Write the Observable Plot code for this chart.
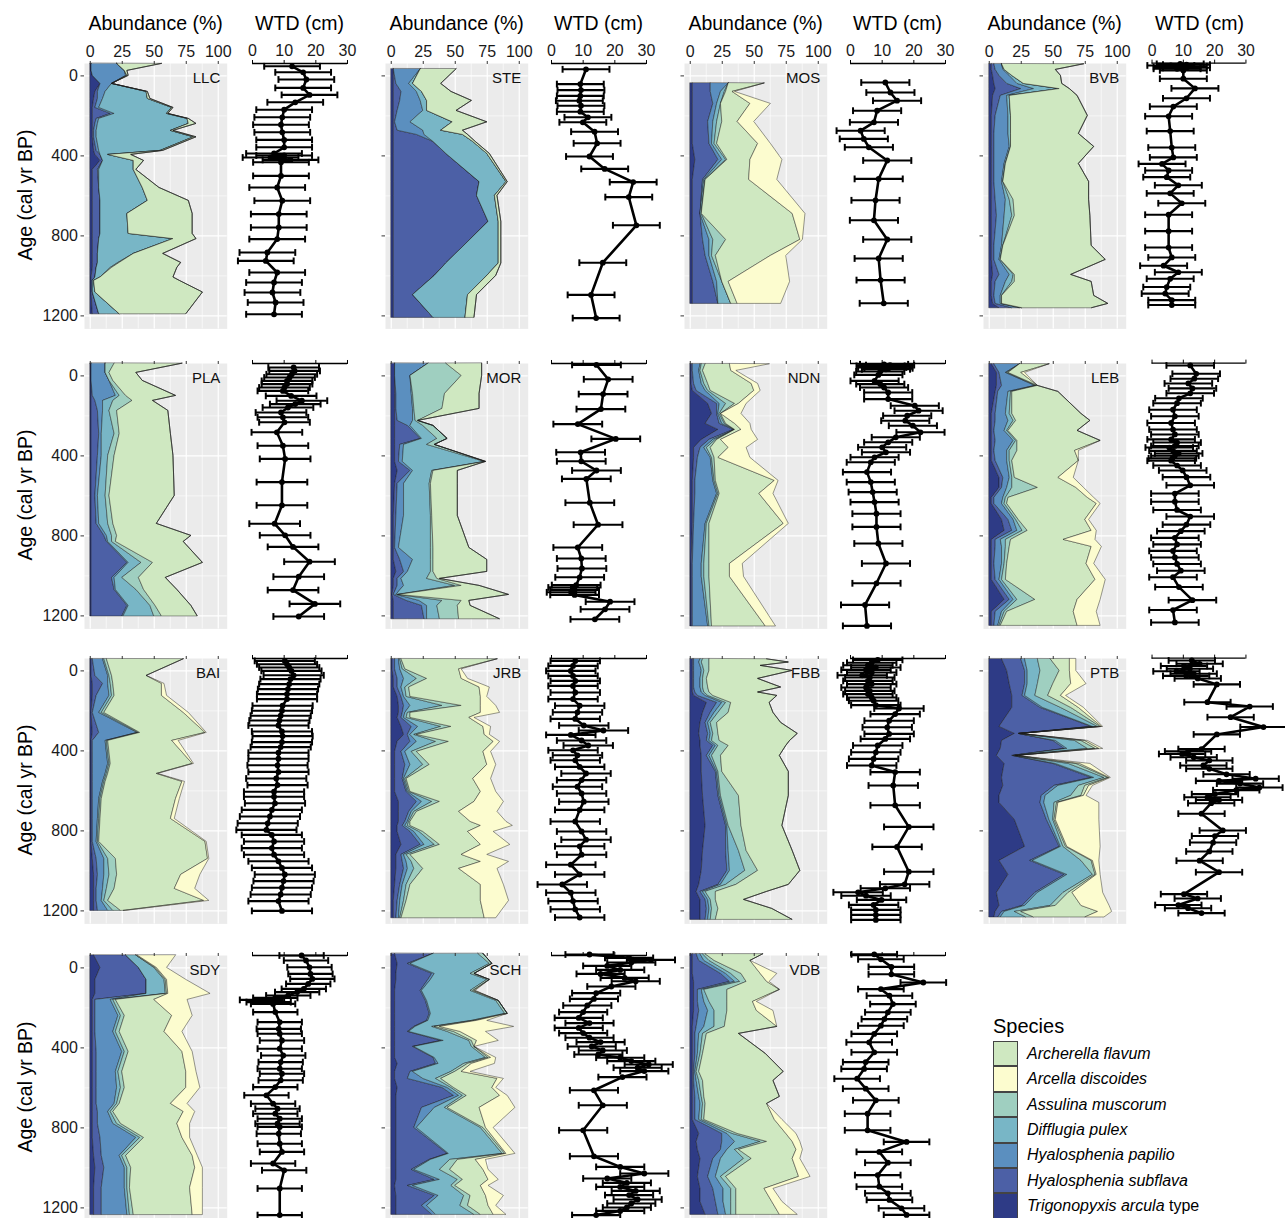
<!DOCTYPE html>
<html><head><meta charset="utf-8">
<script src="https://cdn.jsdelivr.net/npm/d3@7"></script>
<script src="https://cdn.jsdelivr.net/npm/@observablehq/plot@0.6"></script>
<style>
body{margin:0;background:#fff;font-family:"Liberation Sans",Arial,Helvetica,sans-serif;}
#chart{position:relative;width:1285px;height:1218px;overflow:hidden;background:#fff;}
#chart svg{overflow:visible;}
.box{position:absolute;}
.t{position:absolute;white-space:nowrap;color:#000;line-height:1;}
</style></head><body><div id="chart"></div>
<script>
// ---------- categories ----------
const SPECIES = ["Archerella flavum","Arcella discoides","Assulina muscorum","Difflugia pulex","Hyalosphenia papilio","Hyalosphenia subflava","Trigonopyxis arcula type"];
const COLORS  = ["#cfe8c1","#fcfccf","#9fcfc0","#78b6c6","#5b8fbf","#4c60a6","#2e3b86"];
// column order of abundance rows (after age), innermost first
const STACK = ["Trigonopyxis arcula type","Hyalosphenia subflava","Hyalosphenia papilio","Difflugia pulex","Assulina muscorum","Archerella flavum","Arcella discoides"];
const SITES = ["LLC","STE","MOS","BVB","PLA","MOR","NDN","LEB","BAI","JRB","FBB","PTB","SDY","SCH","VDB"];
const AB_TICKS = [0,25,50,75,100];
const WTD_TICKS = [0,10,20,30];
const AGE_TICKS = [0,400,800,1200];

// ---------- abundance (%) : [age, Trig, Hsub, Hpap, Dpul, Assul, Aflav, Adisc] ----------
const LLC_abund = [[-60,1,0,20,0,0,35,0],[-25,1,0,26,0,0,2,0],[0,2,0,26,1,0,1,0],[40,8,0,9,0,0,0,0],[80,4,2,6,32,0,1,0],[115,3,3,4,35,0,2,0],[160,2,2,3,57,0,1,0],[190,2,14,3,41,0,1,0],[215,2,3,2,69,0,1,0],[240,2,2,2,71,0,6,0],[275,2,1,2,58,0,2,0],[307,2,1,2,76,0,2,0],[375,3,2,2,48,0,2,0],[395,4,4,0,6,0,18,0],[425,8,2,0,24,0,8,0],[470,2,4,1,27,0,2,0],[560,2,5,0,34,0,13,0],[625,2,6,0,37,0,32,0],[690,2,6,0,21,0,51,0],[790,2,6,0,22,0,50,0],[816,2,5,0,58,0,18,0],[890,2,4,0,28,0,23,0],[935,2,4,0,16,1,48,0],[960,2,3,0,11,1,51,0],[1008,1,3,0,4,0,57,0],[1025,1,1,0,1,0,67,0],[1083,1,1,0,2,0,84,0],[1192,2,5,0,16,0,52,0]];
const STE_abund = [[-33,2,0,21,0,0,28,0],[40,2,2,10,3,0,22,0],[80,2,6,12,4,0,23,0],[125,2,5,16,5,0,35,0],[175,2,3,20,3,0,23,0],[232,2,1,12,33,0,27,0],[274,2,3,20,14,0,17,0],[295,2,18,6,30,0,4,0],[330,2,31,0,31,0,2,0],[390,2,41,0,32,0,2,0],[531,2,67,0,21,0,1,0],[600,2,65,0,14,0,2,0],[730,2,74,0,8,0,2,0],[938,2,41,0,41,0,2,0],[1000,2,32,0,41,0,7,0],[1096,2,15,0,43,0,7,0],[1210,2,31,0,25,0,7,0]];
const MOS_abund = [[38,2,14,14,0,0,28,0],[80,2,14,8,3,1,5,2],[140,2,16,3,3,0,23,16],[230,2,12,4,3,4,12,13],[340,2,13,2,2,2,32,10],[420,4,18,3,3,1,18,25],[520,2,8,1,1,0,34,22],[690,2,6,0,1,0,71,10],[820,2,8,5,3,10,58,2],[900,2,10,3,2,3,43,12],[1030,2,16,3,4,0,5,48],[1140,2,20,0,10,0,5,34]];
const BVB_abund = [[-58,2,2,6,0,0,64,0],[-30,2,3,6,1,0,40,0],[0,3,5,8,2,0,38,0],[40,4,10,8,5,0,30,0],[66,5,20,10,20,0,8,0],[100,3,6,5,2,0,53,0],[200,2,3,10,2,0,60,0],[290,2,2,11,2,0,53,0],[355,2,2,12,1,0,65,0],[440,2,2,8,1,0,57,0],[530,2,2,6,1,0,67,0],[620,2,3,8,3,3,59,0],[700,2,4,6,6,2,59,0],[850,2,2,6,1,0,69,0],[920,2,2,4,1,0,82,0],[995,3,5,8,3,1,44,0],[1030,2,3,8,5,2,60,0],[1100,2,2,5,1,0,72,0],[1140,3,2,4,1,0,83,0],[1162,8,10,6,2,0,54,0]];
const PLA_abund = [[-61,1,0,11,0,7,53,0],[-15,1,0,11,0,3,21,0],[25,1,0,14,0,3,23,0],[100,1,1,18,3,5,39,0],[125,1,3,6,8,15,16,0],[175,1,5,4,5,6,40,0],[290,1,6,2,10,4,40,0],[400,1,5,3,5,5,46,0],[600,1,3,2,6,3,51,0],[740,1,4,2,7,4,34,0],[800,1,10,2,4,4,58,0],[830,1,12,1,3,3,53,0],[935,1,28,1,10,9,39,0],[1010,1,16,2,6,13,21,0],[1070,1,18,1,16,6,26,0],[1150,1,28,1,17,4,28,0],[1203,1,24,1,24,6,28,0]];
const MOR_abund = [[-61,3,0,26,0,14,28,0],[0,3,0,12,0,40,16,0],[90,3,1,12,1,25,27,0],[165,3,1,13,1,22,29,0],[225,3,2,12,2,2,0,0],[250,3,10,2,10,8,0,0],[315,3,20,1,12,8,0,0],[345,3,4,3,18,6,0,0],[430,3,3,3,64,1,0,0],[475,5,10,2,15,1,19,0],[540,3,2,5,20,1,21,0],[700,2,2,6,21,1,20,0],[860,2,1,3,25,2,28,0],[920,2,5,10,14,2,42,0],[980,4,6,3,18,2,42,0],[1015,2,3,3,20,8,2,0],[1050,2,3,5,40,5,14,0],[1095,1,1,2,1,1,86,0],[1125,2,10,10,18,15,6,0],[1150,2,22,4,8,16,10,0],[1217,2,24,2,10,15,32,0]];
const NDN_abund = [[-58,1,1,6,1,3,19,31],[-25,1,1,5,1,2,22,4],[40,1,2,6,2,3,34,5],[75,2,3,7,2,2,34,5],[140,14,7,2,5,7,3,6],[190,17,4,1,1,1,0,16],[240,12,11,2,2,1,7,12],[270,22,12,1,0,0,5,8],[320,9,6,3,2,1,3,29],[360,3,5,3,2,3,14,14],[410,3,3,10,1,2,3,25],[525,2,2,14,1,1,46,3],[590,2,2,17,1,1,31,11],[740,2,1,9,1,2,58,4],[940,1,1,7,2,4,16,10],[1005,1,1,7,2,4,16,11],[1253,1,1,12,1,2,42,8]];
const LEB_abund = [[-58,2,2,20,0,0,23,0],[-15,6,2,5,1,1,10,3],[50,6,4,26,1,1,0,0],[80,5,2,8,2,1,36,0],[190,2,3,8,3,2,54,0],[225,2,3,10,4,2,58,0],[275,2,2,8,2,1,54,0],[325,2,3,14,2,1,65,0],[375,2,2,10,2,6,45,3],[425,2,3,9,2,2,52,0],[510,8,3,5,2,2,34,12],[560,8,2,4,4,20,30,6],[610,2,2,7,2,2,62,5],[640,2,2,6,2,2,70,3],[720,10,5,4,2,2,52,3],[775,12,6,4,4,4,50,4],[820,2,3,4,4,4,41,25],[855,2,3,5,3,3,64,8],[940,2,2,6,2,2,62,6],[1020,2,3,3,2,3,70,8],[1120,12,4,3,3,14,33,18],[1180,2,3,5,2,2,52,18],[1250,2,2,3,1,1,60,18]];
const BAI_abund = [[-58,1,1,8,1,2,60,0],[25,1,3,10,1,2,27,0],[65,2,8,4,2,2,38,2],[125,2,3,10,2,2,37,4],[210,1,1,5,2,2,62,4],[310,2,5,30,1,1,51,1],[350,1,1,10,1,1,50,5],[465,1,1,12,1,1,64,1],[515,1,1,10,1,1,38,1],[555,1,1,8,1,1,60,2],[640,1,1,5,1,1,58,3],[740,1,1,4,1,1,55,3],[855,1,1,3,1,1,83,1],[940,2,3,6,3,6,72,1],[1020,3,3,5,4,6,50,15],[1090,3,2,5,3,6,47,16],[1150,3,2,4,2,3,75,4],[1200,3,3,8,4,6,2,2]];
const JRB_abund = [[-58,1,2,3,1,1,75,0],[-8,1,2,4,2,2,42,2],[40,2,3,5,10,8,27,5],[83,2,3,3,3,3,55,8],[130,5,3,2,2,3,55,5],[175,6,4,5,25,15,15,12],[210,6,3,2,2,2,55,15],[235,5,3,2,2,3,46,4],[280,8,8,5,18,8,25,6],[320,10,3,2,3,2,53,4],[355,5,10,5,15,10,35,5],[405,3,5,3,5,4,52,6],[470,3,8,4,10,5,45,7],[540,3,6,1,1,1,52,14],[605,3,9,1,1,1,55,12],[655,6,14,4,8,6,27,23],[705,6,8,2,2,2,33,30],[755,6,5,2,1,1,47,28],[775,5,4,2,2,2,55,25],[805,5,10,3,4,3,35,20],[870,8,15,3,8,4,32,23],[920,4,4,2,2,3,40,20],[955,4,5,3,4,4,50,22],[990,4,6,3,5,7,28,30],[1070,3,4,2,3,3,55,18],[1150,2,3,2,3,2,58,22],[1237,2,2,2,1,1,65,9]];
const FBB_abund = [[-58,2,1,5,2,5,45,0],[-42,2,1,4,2,6,62,0],[-25,2,1,5,2,5,40,0],[0,2,1,6,2,4,65,0],[40,2,1,5,2,3,40,0],[83,2,1,5,2,4,57,0],[108,2,2,5,2,4,38,0],[125,3,3,6,2,4,50,0],[160,13,8,4,3,4,30,0],[210,10,6,3,3,8,35,0],[260,8,4,2,2,5,50,0],[315,7,7,2,2,4,62,0],[350,8,5,2,2,6,55,0],[375,8,10,2,2,8,45,0],[425,9,4,2,2,7,46,0],[505,9,11,1,1,3,52,0],[625,10,12,1,1,14,39,0],[775,12,16,1,1,10,32,0],[900,10,18,2,8,6,36,0],[1000,9,20,2,12,10,33,0],[1070,7,15,2,4,8,41,0],[1105,5,3,2,2,8,40,0],[1145,8,4,2,2,4,22,0],[1190,8,5,2,2,5,42,0],[1245,8,4,2,2,4,60,0]];
const PTB_abund = [[-58,10,15,3,10,10,15,5],[0,14,14,2,10,15,8,5],[66,16,12,2,8,12,14,12],[125,18,8,2,8,10,10,4],[185,18,22,2,14,8,6,4],[280,8,72,1,4,2,1,1],[315,20,3,0,1,0,0,0],[350,10,40,2,15,5,3,2],[390,9,50,2,16,6,3,3],[425,6,12,1,1,1,0,0],[465,12,38,2,10,6,3,8],[535,10,70,2,8,3,1,1],[575,11,40,3,16,5,3,3],[625,8,33,3,20,8,2,2],[660,8,32,3,8,2,1,32],[745,20,25,2,3,1,1,34],[880,28,27,1,2,2,1,26],[950,8,24,2,38,8,1,5],[1020,15,44,2,20,2,1,3],[1110,6,30,2,20,4,3,24],[1175,8,18,2,20,4,20,22],[1205,5,5,2,8,5,60,11],[1233,4,3,2,20,6,40,15]];
const SDY_abund = [[-62,3,25,0,8,0,1,30],[0,8,30,0,12,1,1,8],[60,4,40,0,14,1,1,15],[130,4,40,0,15,1,1,33],[160,2,2,12,2,2,30,26],[240,2,2,18,2,3,37,16],[320,2,2,14,2,3,35,14],[420,2,3,20,2,3,42,8],[520,2,3,15,2,3,50,8],[600,2,3,16,3,3,48,11],[680,2,3,14,2,2,40,13],[720,2,4,8,2,2,55,9],[780,2,4,12,3,3,44,10],[850,2,6,28,3,3,30,6],[940,3,6,14,2,3,52,4],[1000,4,7,16,2,3,50,6],[1100,3,6,18,2,2,47,10],[1236,3,6,20,2,3,46,8]];
const SCH_abund = [[-70,3,30,0,35,4,0,0],[-20,5,8,2,62,2,0,0],[30,4,28,2,28,3,0,0],[60,4,25,2,44,2,0,0],[115,3,20,1,38,2,1,1],[165,3,24,1,54,2,0,0],[230,3,27,1,58,2,0,0],[265,3,25,1,34,2,2,8],[295,3,15,1,13,2,4,58],[320,3,10,1,30,5,5,20],[365,3,36,2,20,2,4,17],[395,3,14,1,45,2,0,0],[450,3,30,1,40,2,2,4],[480,5,30,2,20,3,3,18],[520,3,12,2,30,3,5,7],[555,3,10,12,10,4,44,5],[600,5,35,4,3,2,30,3],[640,4,45,4,3,3,26,6],[700,4,20,10,8,2,25,28],[800,4,14,2,50,2,2,6],[930,4,40,1,42,2,1,7],[960,4,26,1,15,6,14,8],[1010,4,12,2,20,8,26,4],[1060,4,30,4,14,4,20,8],[1090,3,10,4,30,3,20,6],[1140,4,30,3,20,5,12,14],[1190,4,20,4,26,6,16,6],[1235,4,28,3,30,5,10,10]];
const VDB_abund = [[-68,2,3,3,2,2,45,0],[-35,2,5,4,4,4,28,0],[30,2,22,4,4,8,15,13],[70,3,28,4,4,5,16,2],[110,3,3,3,2,18,41,0],[170,3,3,5,4,14,20,3],[215,3,4,7,5,10,23,13],[295,2,3,6,8,8,41,0],[330,2,2,3,3,3,25,0],[430,2,2,2,2,2,49,0],[520,2,1,1,1,2,66,0],[565,2,1,2,2,3,55,0],[645,2,2,3,2,2,59,0],[680,2,2,4,2,2,48,0],[760,2,2,3,2,2,55,6],[830,7,18,4,4,4,38,8],[870,5,20,10,20,5,20,6],[910,6,18,5,6,3,45,5],[955,8,10,6,18,6,32,6],[1045,6,8,6,4,4,57,9],[1105,8,10,8,6,4,22,7],[1170,8,12,6,6,4,28,8],[1235,12,10,6,4,4,34,14]];

// ---------- water-table depth (cm): [age, WTD] ----------
const LLC_wtd = [[-48,12.5],[-18,16],[18,17],[60,16],[95,18],[132,13.5],[169,10],[207,9.4],[244,9],[282,9.4],[320,10],[357,10],[388,6.8],[398,10],[408,5.7],[420,12],[432,9],[500,9],[558,7.8],[624,9.4],[691,8.3],[758,8.3],[816,7.8],[883,4.7],[925,4.2],[983,7.8],[1033,6.8],[1083,6.3],[1133,7.3],[1192,6.8]];
const STE_wtd = [[-33,10.9],[41,9.1],[71,9.3],[100,9.1],[124,8.8],[149,9.3],[179,9.1],[207,11.5],[232,9.9],[279,13.6],[337,14.4],[403,12],[465,16.8],[531,25.8],[606,24.4],[747,26.8],[934,16.2],[1095,12.5],[1211,14.1]];
const MOS_wtd = [[33,11],[83,12.6],[124,14.7],[174,8.4],[232,7.4],[274,3.2],[315,4.2],[357,5.8],[423,11.6],[515,8.9],[622,7.9],[722,7.4],[818,11.6],[913,8.9],[1021,9.5],[1137,10.5]];
const BVB_wtd = [[-58,9],[-54,11],[-50,6],[-46,10],[-42,8],[-38,11],[-33,8],[-25,10],[17,10],[66,13.7],[116,11],[158,6.8],[207,5.3],[282,5.8],[365,6.3],[415,6.8],[448,3.2],[481,5.3],[515,4.7],[556,8.4],[597,5.8],[647,9.5],[705,5.3],[788,5.3],[871,5.3],[921,6.3],[963,3.7],[996,8.4],[1029,5.8],[1071,4.7],[1104,4.2],[1137,6.3],[1162,6.3]];
const PLA_wtd = [[-42,13],[-25,13.3],[-8,12.4],[8,11.7],[25,10.9],[41,10.9],[58,10.1],[75,9.6],[100,12.2],[124,15.6],[141,13.5],[158,11.2],[183,9],[207,9.6],[232,10.1],[282,7.7],[349,9.6],[415,10.3],[531,9.3],[647,9.3],[739,7],[797,10.3],[855,12.8],[929,18],[1004,14.6],[1071,12.8],[1140,19.7],[1203,14.6]];
const MOR_wtd = [[-55,14.2],[17,17.9],[91,16.3],[166,15.6],[241,8.3],[315,20.3],[382,9.2],[427,9.4],[473,14.2],[515,11],[634,12.1],[744,14.7],[858,8.3],[913,9.4],[963,9.6],[1007,8.9],[1046,7.8],[1058,6.7],[1070,7.3],[1082,6.2],[1095,7.3],[1129,18.5],[1167,16.9],[1217,13.7]];
const NDN_wtd = [[-58,10.6],[-54,12.5],[-50,9.5],[-46,11.9],[-42,10],[-38,12],[-33,11.2],[-22,9.4],[-5,8.8],[25,7.6],[41,9.4],[58,10.6],[83,11.9],[116,11.9],[149,20.3],[174,21.5],[199,17.9],[224,17.3],[249,19.7],[282,22.1],[307,14.3],[332,11.9],[357,10],[382,11.2],[407,7.6],[432,6.4],[481,5.2],[531,6.4],[581,7],[631,7.6],[689,8.2],[755,8.2],[838,8.8],[938,11.2],[1037,8.2],[1145,4.6],[1250,5.2]];
const LEB_wtd = [[-50,12.2],[-8,14.1],[17,13.5],[41,11.6],[66,12.9],[91,12.2],[116,8.6],[141,8],[174,6.7],[207,7.3],[241,6.1],[274,6.7],[299,7.3],[324,6.1],[340,8],[357,7.3],[365,5.5],[382,6.7],[395,8.5],[407,7.3],[420,6.5],[432,6.1],[456,8],[481,9.8],[515,11],[556,12.2],[598,7.3],[639,7.3],[681,8],[714,12.2],[755,11],[788,9.2],[822,7.3],[855,8],[888,6.7],[921,7.3],[954,8],[988,9.2],[1021,6.7],[1071,8.6],[1137,12.9],[1187,6.7],[1250,7.3]];
const BAI_wtd = [[-50,10.2],[-33,10.9],[-17,11.6],[0,12.3],[22,13],[41,12],[66,11.6],[91,11.2],[116,10.9],[141,10.9],[174,9.5],[199,9.3],[224,8.9],[248,8.5],[273,8.2],[303,9.3],[326,9.5],[356,9.3],[381,8.9],[409,8.2],[439,8.2],[472,7.9],[505,8.2],[538,7.5],[571,7.9],[604,6.8],[629,6.8],[662,7.1],[695,6.1],[728,5.5],[762,4.8],[795,4.4],[820,6.1],[853,6.8],[886,6.1],[919,6.8],[952,8.2],[985,9.3],[1018,10.2],[1051,9.8],[1084,9.3],[1118,8.9],[1151,8.2],[1200,9.3]];
const JRB_wtd = [[-50,7.5],[-25,6.8],[0,6.1],[25,6.8],[50,7.5],[75,6.8],[108,7.5],[141,6.8],[174,8.9],[207,8.2],[240,7.5],[273,10.2],[298,16.4],[320,6.1],[348,9.5],[373,11.6],[397,6.8],[422,8.2],[447,7.5],[480,8.9],[513,10.9],[546,9.5],[579,8.2],[613,9.5],[654,10.2],[695,8.9],[753,7.5],[803,9.5],[844,10.9],[877,8.9],[919,9.5],[969,6.1],[1018,8.9],[1068,3.4],[1109,6.1],[1151,6.8],[1192,7.5],[1233,8.9]];
const FBB_wtd = [[-55,8.6],[-41,6.7],[-28,5.5],[-17,8],[-5,4.9],[8,6.7],[22,3.7],[33,6.1],[50,5.5],[66,6.7],[83,4.9],[100,6.1],[116,5.5],[133,6.7],[149,7.3],[171,8],[188,15.3],[216,14.1],[249,12.2],[282,11.6],[315,12.2],[340,11],[373,8.6],[407,8],[440,7.3],[473,6.7],[506,14.1],[573,13.5],[672,14.1],[780,18.4],[880,14.7],[1004,18.4],[1067,17.1],[1087,11],[1107,2.4],[1124,4.9],[1145,9.8],[1170,7.3],[1195,8],[1220,8],[1245,8]];
const PTB_wtd = [[-50,12.7],[-33,15.2],[-22,10.2],[-8,12.1],[5,7.8],[17,13.3],[28,10.9],[41,14.6],[71,20.7],[161,17.7],[183,31.2],[237,25.1],[287,35.6],[324,20.7],[398,15.8],[410,11.5],[423,9.6],[440,13.3],[456,18.3],[481,16.4],[498,18.3],[526,23.8],[548,33.1],[559,21.4],[573,28.1],[593,34.3],[606,26.9],[626,20.1],[642,17.7],[656,21.4],[672,18.9],[725,15.8],[810,22.6],[838,20.1],[871,19.5],[916,18.3],[963,15.2],[1021,21.4],[1132,10.2],[1154,14.6],[1187,8.4],[1203,11.5],[1228,15.8]];
const SDY_wtd = [[-62,15.5],[-37,16.9],[-3,18],[30,18.3],[55,18.9],[80,17.6],[105,16.2],[121,14.1],[138,11.3],[150,7.2],[160,3],[171,5.1],[180,6.5],[221,7.2],[271,8.6],[305,8.3],[329,8.6],[363,9.3],[404,8.6],[438,9.7],[471,8.9],[504,8.6],[529,9.3],[562,8.9],[596,7.2],[637,4.4],[679,6.5],[704,7.9],[729,7.2],[754,8.6],[779,7.9],[795,8.6],[829,8.3],[879,8.6],[920,9.3],[978,6.5],[1012,10],[1103,8.6],[1236,8.6]];
const SCH_wtd = [[-67,12],[-50,24.5],[-40,31.4],[-27,25.2],[-10,17.6],[10,21.7],[30,15.5],[50,23.1],[67,26.6],[93,18.9],[126,14.1],[155,13.4],[188,11.3],[221,10],[250,8.6],[276,12],[300,8.6],[326,10],[349,12],[371,15.5],[393,12.7],[413,16.2],[433,14.8],[449,21.7],[466,25.2],[483,30.7],[499,27.2],[516,29.3],[546,22.4],[612,13.4],[687,16.2],[812,10],[942,13.4],[995,21.7],[1028,29.3],[1053,17.6],[1075,23.8],[1095,21.7],[1115,26.6],[1136,24.5],[1158,27.2],[1178,25.2],[1198,23.8],[1215,21.7],[1236,14.1]];
const VDB_wtd = [[-68,7.5],[-43,9.6],[-5,12.9],[32,12.9],[73,23],[106,9.6],[139,12.3],[181,13.4],[222,11.8],[256,10.7],[289,9.6],[330,7.5],[372,5.9],[422,7.5],[471,4.8],[505,4.3],[554,2.1],[604,4.8],[662,8],[729,5.4],[812,5.4],[870,17.7],[920,9.1],[974,11.8],[1036,8.6],[1094,9.1],[1127,11.8],[1160,12.3],[1202,16.1],[1235,17.7]];
// half-width of the WTD error bars per site (cm)
const WTD_ERR = [8.8,7.4,7.6,7.5,8,7.7,7.6,7.6,9.5,7.8,7.8,7.4,7,7.6,7.2];

const ABUND = [LLC_abund,STE_abund,MOS_abund,BVB_abund,PLA_abund,MOR_abund,NDN_abund,LEB_abund,BAI_abund,JRB_abund,FBB_abund,PTB_abund,SDY_abund,SCH_abund,VDB_abund];
const WTD = [LLC_wtd,STE_wtd,MOS_wtd,BVB_wtd,PLA_wtd,MOR_wtd,NDN_wtd,LEB_wtd,BAI_wtd,JRB_wtd,FBB_wtd,PTB_wtd,SDY_wtd,SCH_wtd,VDB_wtd];

// ---------- layout ----------
const ROW_Y0 = [75, 375, 670, 967];       // pixel of age 0 per row
const AB_X0 = [90, 391, 690, 989];        // pixel of 0 % per column
const WTD_X0 = [252, 551, 850, 1152];     // pixel of 0 cm per column
const PX_YR = 0.2, PX_PCT = 1.28, WTD_W = 95;
const AGE_DOMAIN = [-62, 1265];
const AB_DOMAIN = [-4.5, 107];
const WTD_DOMAIN = [0, 30];
const FONT = "'Liberation Sans', Arial, Helvetica, sans-serif";
const chart = document.getElementById("chart");

function put(el, left, top) {
  const d = document.createElement("div");
  d.className = "box"; d.style.left = left + "px"; d.style.top = top + "px";
  d.appendChild(el); chart.appendChild(d);
}
function label(text, x, y, size, opts = {}) {
  const d = document.createElement("div");
  d.className = "t"; d.textContent = text;
  d.style.left = x + "px"; d.style.top = y + "px"; d.style.fontSize = size + "px";
  d.style.transform = (opts.center ? "translate(-50%,-50%) " : "translate(0,-50%) ") + (opts.rotate ? "rotate(-90deg)" : "");
  if (opts.italic) d.style.fontStyle = "italic";
  chart.appendChild(d);
  return d;
}

const ph = (AGE_DOMAIN[1] - AGE_DOMAIN[0]) * PX_YR;
const styleBase = {background: "transparent", overflow: "visible", fontFamily: FONT, color: "#1a1a1a"};

SITES.forEach((site, i) => {
  const r = Math.floor(i / 4), c = i % 4;
  const top = ROW_Y0[r] + AGE_DOMAIN[0] * PX_YR;

  // ----- abundance panel -----
  const data = ABUND[i].flatMap(row => STACK.map((sp, k) => ({age: row[0], species: sp, value: row[k + 1]})));
  const pw = (AB_DOMAIN[1] - AB_DOMAIN[0]) * PX_PCT;
  const m = {l: 50, r: 6, t: 36, b: 6};
  const ab = Plot.plot({
    width: pw + m.l + m.r, height: ph + m.t + m.b,
    marginLeft: m.l, marginRight: m.r, marginTop: m.t, marginBottom: m.b,
    style: styleBase,
    x: {domain: AB_DOMAIN},
    y: {domain: AGE_DOMAIN, reverse: true},
    color: {domain: SPECIES, range: COLORS},
    marks: [
      Plot.frame({fill: "#ebebeb", stroke: "none"}),
      Plot.ruleX([12.5, 37.5, 62.5, 87.5], {stroke: "white", strokeWidth: 0.6}),
      Plot.ruleY([200, 600, 1000], {stroke: "white", strokeWidth: 0.6}),
      Plot.ruleX(AB_TICKS, {stroke: "white", strokeWidth: 1.2}),
      Plot.ruleY(AGE_TICKS, {stroke: "white", strokeWidth: 1.2}),
      Plot.areaX(data, {y: "age", x: "value", fill: "species", order: STACK, stroke: "#1a1a1a", strokeWidth: 0.45}),
      Plot.axisX({anchor: "top", ticks: AB_TICKS, tickSize: 3, tickPadding: 3, fontSize: 16, label: null,
                  tickFormat: r === 0 ? (d => String(d)) : (() => ""), stroke: "#333"}),
      Plot.axisY({anchor: "left", ticks: AGE_TICKS, tickSize: 3.5, tickPadding: 3, fontSize: 16, label: null,
                  tickFormat: c === 0 ? (d => String(d)) : (() => ""), stroke: "#333"}),
      Plot.text([site], {frameAnchor: "top-right", dx: -7, dy: 15, lineAnchor: "middle", text: d => d, fontSize: 15, fill: "#111"})
    ]
  });
  put(ab, AB_X0[c] + AB_DOMAIN[0] * PX_PCT - m.l, top - m.t);

  // ----- WTD panel -----
  const err = WTD_ERR[i];
  const w = WTD[i].map(d => ({age: d[0], wtd: d[1], lo: d[1] - err, hi: d[1] + err}));
  const mw = {l: 40, r: 40, t: 36, b: 10};
  const wp = Plot.plot({
    width: WTD_W + mw.l + mw.r, height: ph + mw.t + mw.b,
    marginLeft: mw.l, marginRight: mw.r, marginTop: mw.t, marginBottom: mw.b,
    style: styleBase,
    x: {domain: WTD_DOMAIN},
    y: {domain: AGE_DOMAIN, reverse: true, axis: null},
    marks: [
      Plot.ruleY(w, {y: "age", x1: "lo", x2: "hi", stroke: "#000", strokeWidth: 2.1}),
      Plot.link(w, {x1: "lo", x2: "lo", y1: d => d.age - 17, y2: d => d.age + 17, stroke: "#000", strokeWidth: 2}),
      Plot.link(w, {x1: "hi", x2: "hi", y1: d => d.age - 17, y2: d => d.age + 17, stroke: "#000", strokeWidth: 2}),
      Plot.line(w, {x: "wtd", y: "age", stroke: "#000", strokeWidth: 2.6}),
      Plot.dot(w, {x: "wtd", y: "age", r: 2.9, fill: "#000", stroke: "none"}),
      Plot.ruleY([AGE_DOMAIN[0]], {x1: WTD_DOMAIN[0], x2: WTD_DOMAIN[1], stroke: "#000", strokeWidth: 1.4}),
      Plot.axisX({anchor: "top", ticks: WTD_TICKS, tickSize: 4, tickPadding: 3, fontSize: 16, label: null,
                  tickFormat: r === 0 ? (d => String(d)) : (() => ""), stroke: "#000"})
    ]
  });
  put(wp, WTD_X0[c] - mw.l, top - mw.t);

  // ----- titles -----
  if (r === 0) {
    label("Abundance (%)", AB_X0[c] + (AB_DOMAIN[0] + AB_DOMAIN[1]) / 2 * PX_PCT, 24, 19.5, {center: true});
    label("WTD (cm)", WTD_X0[c] + WTD_W / 2, 24, 19.5, {center: true});
  }
  if (c === 0) {
    label("Age (cal yr BP)", 26, ROW_Y0[r] + 600 * PX_YR, 19.5, {center: true, rotate: true});
  }
});

// ----- legend -----
label("Species", 993, 1026, 20);
const SW_H = 25.4;
SPECIES.forEach((sp, k) => {
  const y = 1041 + k * SW_H;
  const s = document.createElement("div");
  s.style.cssText = `position:absolute;left:993px;top:${y}px;width:25px;height:${SW_H}px;background:${COLORS[k]};box-sizing:border-box;border:0.6px solid #444;`;
  chart.appendChild(s);
  const t = label("", 1027, y + SW_H / 2, 16);
  if (sp.endsWith(" type")) {
    const it = document.createElement("i"); it.textContent = sp.replace(" type", "");
    t.appendChild(it); t.appendChild(document.createTextNode(" type"));
  } else {
    t.textContent = sp; t.style.fontStyle = "italic";
  }
});
</script></body></html>
